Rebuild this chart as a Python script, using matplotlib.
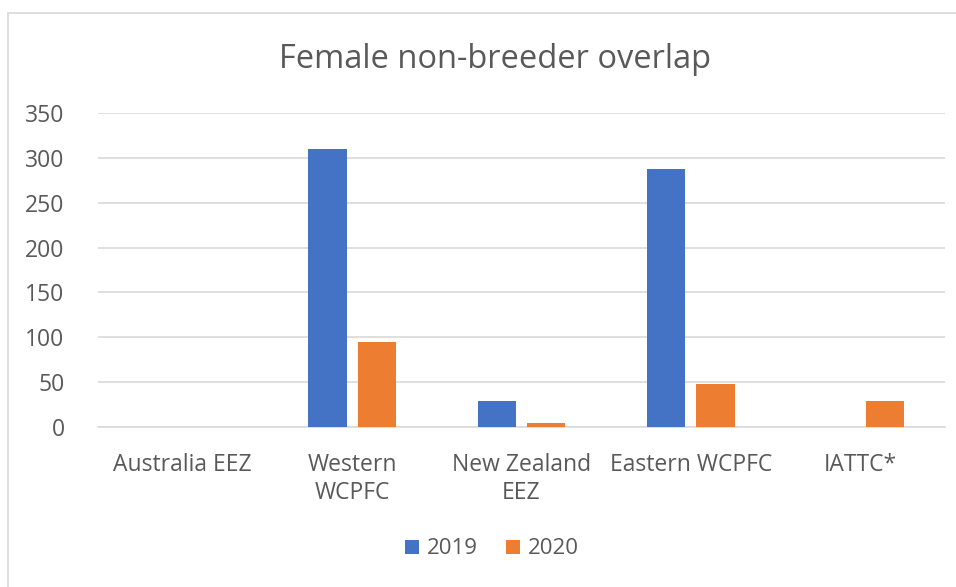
import numpy as np
import matplotlib.pyplot as plt
from matplotlib.patches import Rectangle

plt.rcParams['font.family'] = ['Open Sans', 'DejaVu Sans']

categories = ['Australia EEZ', 'Western\nWCPFC', 'New Zealand\nEEZ', 'Eastern WCPFC', 'IATTC*']
vals_2019 = [0, 310, 29, 288, 0]
vals_2020 = [0, 95, 5, 48, 29]
series_names = ['2019', '2020']
colors = ['#4472c4', '#ed7d31']
text_col = '#595959'

fig = plt.figure(figsize=(9.56, 5.87), dpi=100)
# chart border
fig.patches.append(Rectangle((8 / 956, -0.05), 1.0, 1 - 13 / 587 + 0.05,
                             transform=fig.transFigure, fill=False,
                             edgecolor='#d9d9d9', linewidth=1.2))

ax = fig.add_axes([98 / 956, 1 - 427 / 587, (945 - 98) / 956, (427 - 113) / 587])
x = np.arange(len(categories))
w = 0.225
off = 0.145
ax.bar(x - off, vals_2019, width=w, color=colors[0], label=series_names[0], zorder=3)
ax.bar(x + off, vals_2020, width=w, color=colors[1], label=series_names[1], zorder=3)

ax.set_xlim(-0.5, len(categories) - 0.5)
ax.set_ylim(0, 350)
ax.set_yticks(range(0, 351, 50))
ax.grid(axis='y', color='#d9d9d9', linewidth=1.2, zorder=0)
for s in ['top', 'right', 'left']:
    ax.spines[s].set_visible(False)
ax.spines['bottom'].set_color('#d9d9d9')
ax.spines['bottom'].set_linewidth(1.2)
ax.tick_params(axis='both', length=0, labelsize=16.5, colors=text_col)
ax.tick_params(axis='y', pad=24)
ax.tick_params(axis='x', pad=19)
ax.set_xticks(x)
ax.set_xticklabels(categories, va='top', linespacing=1.2)

fig.text(495 / 956, 1 - 60 / 587, 'Female non-breeder overlap', ha='center', va='center',
         fontsize=23.5, color=text_col)

fig.legend(loc='center', bbox_to_anchor=(492 / 956, 1 - 549 / 587), ncol=2, frameon=False,
           fontsize=16, labelcolor=text_col, handlelength=0.6, handleheight=0.6,
           handletextpad=0.35, columnspacing=1.3)

fig.savefig('out.png', dpi=100)
